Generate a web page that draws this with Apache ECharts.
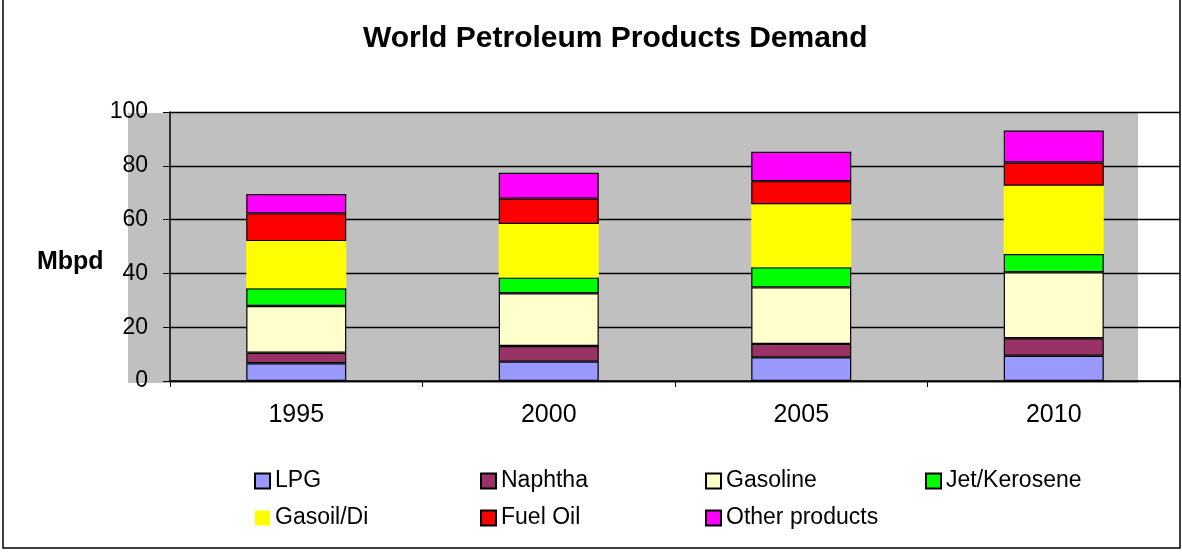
<!DOCTYPE html>
<html>
<head>
<meta charset="utf-8">
<script src="https://cdn.jsdelivr.net/npm/echarts@6/dist/echarts.min.js"></script>
<style>
  html, body { margin: 0; padding: 0; background: #fff; }
  #myChart { width: 1182px; height: 558px; }
</style>
</head>
<body>
<div id="myChart"></div>
<script>
// categories and values (Mbpd)
const years = ['1995', '2000', '2005', '2010']
const lpg = [6.6, 7.2, 8.8, 9.4]
const naphtha = [3.9, 5.8, 5.0, 6.5]
const gasoline = [17.4, 19.6, 21.0, 24.5]
const jetKerosene = [6.6, 5.9, 7.5, 6.8]
const gasoilDi = [17.5, 19.9, 23.4, 25.4]
const fuelOil = [10.3, 9.4, 8.6, 8.6]
const otherProducts = [7.2, 9.6, 10.9, 11.9]
const yTicks = [0, 20, 40, 60, 80, 100]

const font = '"Liberation Sans", Arial, sans-serif'

function stackBar(name, data, color, border) {
  return {
    name: name,
    type: 'bar',
    stack: 'total',
    barWidth: 100,
    data: data,
    itemStyle: {
      color: color,
      borderColor: '#000',
      borderWidth: border ? 1.2 : 0,
    },
  }
}

let myChart = echarts.init(document.getElementById('myChart'))
myChart.setOption({
  animation: false,
  backgroundColor: '#fff',
  textStyle: { fontFamily: font, color: '#000' },
  title: {
    text: 'World Petroleum Products Demand',
    left: 358,
    top: 19,
    textStyle: { fontFamily: font, fontSize: 30, fontWeight: 'bold', color: '#000' },
  },
  graphic: [
    {
      // grey plot background (offset from the axes as in the original)
      type: 'rect',
      z: -1,
      shape: { x: 128, y: 113, width: 1010, height: 270 },
      style: { fill: '#c0c0c0' },
    },
    {
      // outer frame
      type: 'rect',
      z: 100,
      shape: { x: 3, y: -5, width: 1177, height: 553 },
      style: { fill: 'none', stroke: '#000', lineWidth: 1.5 },
    },
    {
      // y axis title
      type: 'text',
      left: 37,
      top: 250,
      style: { text: 'Mbpd', fill: '#000', font: 'bold 25px ' + font },
    },
  ],
  grid: { left: 170, right: 2, top: 112, bottom: 177 },
  xAxis: {
    type: 'category',
    data: years,
    axisLine: { lineStyle: { color: '#000', width: 1.5 } },
    axisTick: { show: true, length: 6, alignWithLabel: false, lineStyle: { color: '#000' } },
    axisLabel: { color: '#000', fontSize: 25, fontFamily: font, margin: 22 },
  },
  yAxis: {
    type: 'value',
    min: yTicks[0],
    max: yTicks[yTicks.length - 1],
    interval: 20,
    axisLine: { show: true, lineStyle: { color: '#000', width: 1.5 } },
    axisTick: { show: true, length: 7, lineStyle: { color: '#000' } },
    axisLabel: { color: '#000', fontSize: 23, fontFamily: font, margin: 22 },
    splitLine: { show: true, lineStyle: { color: '#000', width: 1.3 } },
  },
  legend: [
    { data: ['LPG', 'Gasoil/Di'], left: 249 },
    { data: ['Naphtha', 'Fuel Oil'], left: 475 },
    { data: ['Gasoline', 'Other products'], left: 700 },
    { data: ['Jet/Kerosene'], left: 920 },
  ].map(function (l) {
    return Object.assign({
      orient: 'vertical',
      top: 464,
      icon: 'rect',
      itemWidth: 15,
      itemHeight: 15,
      itemGap: 13,
      textStyle: { color: '#000', fontSize: 23, fontFamily: font, lineHeight: 24 },
    }, l)
  }),
  series: [
    stackBar('LPG', lpg, '#9999ff', true),
    stackBar('Naphtha', naphtha, '#993366', true),
    stackBar('Gasoline', gasoline, '#ffffcc', true),
    stackBar('Jet/Kerosene', jetKerosene, '#00ff00', true),
    stackBar('Gasoil/Di', gasoilDi, '#ffff00', false),
    stackBar('Fuel Oil', fuelOil, '#ff0000', true),
    stackBar('Other products', otherProducts, '#ff00ff', true),
  ],
})
</script>
</body>
</html>
